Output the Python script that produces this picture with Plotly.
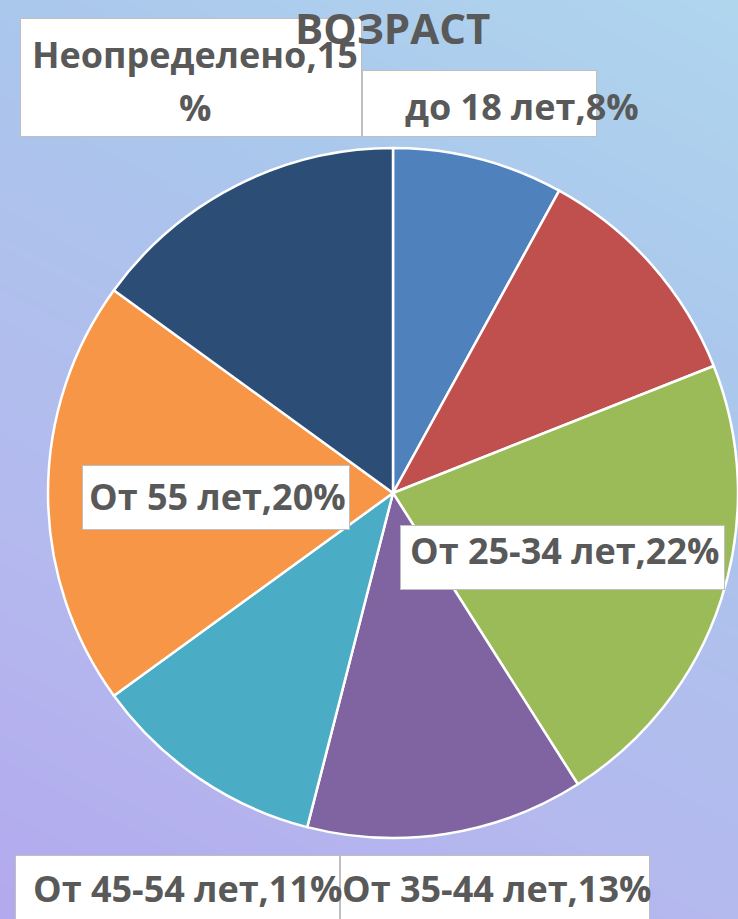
import plotly.graph_objects as go

# ---- data ----
categories = ["до 18 лет", "От 18-24 лет", "От 25-34 лет", "От 35-44 лет",
              "От 45-54 лет", "От 55 лет", "Неопределено"]
values = [8, 11, 22, 13, 11, 20, 15]
colors = ["#4F81BD", "#C0504D", "#9BBB59", "#8064A2", "#4BACC6", "#F79646", "#2C4D75"]
title_text = "ВОЗРАСТ"

W, H = 738, 919
FONT = "Open Sans"
TXT = "#595959"

fig = go.Figure()

# gradient background
fig.add_trace(go.Heatmap(
    z=[[1.0, 0.7], [0.3, 0.0]], x=[0, 1], y=[0, 1], zsmooth="best",
    colorscale=[[0, "#B0D6EE"], [0.3, "#AAC7EC"], [0.7, "#B4B9EE"], [1, "#B3A9EE"]],
    showscale=False, hoverinfo="skip", zmin=0, zmax=1))

cx, cy, r = 393, 493, 345
fig.add_trace(go.Pie(
    labels=categories, values=values, sort=False, direction="clockwise",
    rotation=0, textinfo="none", hoverinfo="label+percent",
    marker=dict(colors=colors, line=dict(color="white", width=2.5)),
    domain=dict(x=[(cx - r) / W, min(1, (cx + r) / W)],
                y=[1 - (cy + r + 2) / H, 1 - (cy - r - 2) / H]),
    showlegend=False))


def px(x, y):
    return x / W, 1 - y / H


annotations = []


def box(x0, x1, y0, y1):
    ax, ay = px((x0 + x1) / 2, (y0 + y1) / 2)
    annotations.append(dict(
        x=ax, y=ay, xref="paper", yref="paper", xanchor="center", yanchor="middle",
        text=" ", showarrow=False, width=x1 - x0 - 2, height=y1 - y0 - 2,
        bgcolor="white", bordercolor="#BFBFBF", borderwidth=1, borderpad=0))


def label(text, x, y, size=36):
    ax, ay = px(x, y)
    annotations.append(dict(
        x=ax, y=ay, xref="paper", yref="paper", xanchor="center", yanchor="middle",
        text=text, showarrow=False,
        font=dict(family=FONT, size=size, color=TXT, weight="bold")))


def lab(i):
    return f"{categories[i]},{values[i]}%"


# boxes
box(20, 362, 18, 137)
box(362, 597, 70, 137)
box(82, 350, 465, 530)
box(400, 725, 525, 590)
box(15, 340, 855, 925)
box(340, 650, 855, 925)

# texts
label(f"{categories[6]},{values[6]}", 195, 55)
label("%", 195, 108)
label(lab(0), 522, 107)
label(lab(5), 217, 497)
label(lab(2), 564, 550)
label(lab(4), 187, 888)
label(lab(3), 496, 888)

# title
label(title_text, 393, 28, size=42)

fig.update_layout(
    width=W, height=H, margin=dict(l=0, r=0, t=0, b=0),
    paper_bgcolor="#B2C4EE", plot_bgcolor="rgba(0,0,0,0)",
    xaxis=dict(domain=[0, 1], range=[0, 1], visible=False, fixedrange=True),
    yaxis=dict(domain=[0, 1], range=[0, 1], visible=False, fixedrange=True),
    annotations=annotations, font=dict(family=FONT))

fig.write_html(
    "out.html",
    config={"displayModeBar": False},
    post_script="document.body.style.margin='0';document.body.style.overflow='hidden';"
                "document.body.style.background='#B2C4EE';")
